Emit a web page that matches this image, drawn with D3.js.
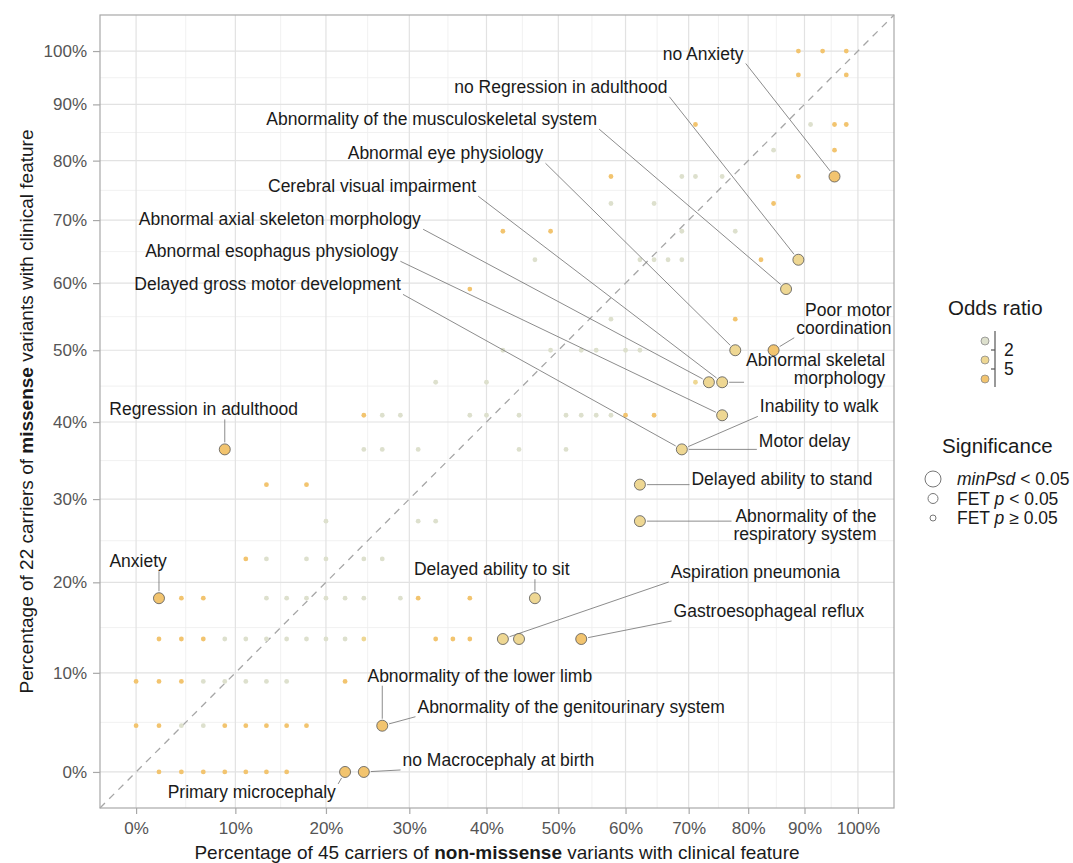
<!DOCTYPE html>
<html lang="en">
<head>
<meta charset="UTF-8">
<title>Missense vs non-missense clinical features</title>
<script src="https://d3js.org/d3.v7.min.js"></script>
<style>
  body { margin: 0; background: #fff; }
  svg { display: block; font-family: "Liberation Sans", Arial, sans-serif; }
</style>
</head>
<body>
<svg id="chart" width="1073" height="863"></svg>
<script>
// carriers in each group
const nonMissenseTotal = 45;
const missenseTotal = 22;

const xTicks = [0, 10, 20, 30, 40, 50, 60, 70, 80, 90, 100];
const yTicks = [0, 10, 20, 30, 40, 50, 60, 70, 80, 90, 100];

// one row per number of missense carriers; each row lists the non-missense carrier counts
// and the odds ratio band of every point (g: < 2, y: 2-5, o: > 5)
const rowMissense = [0, 1, 2, 3, 4, 5, 6, 7, 8, 9, 10, 11, 12, 13, 14, 15, 16, 17, 18, 19, 21, 22];
const rowNonMissense = [
  [1, 2, 3, 4, 5, 6, 7, 10, 11],
  [0, 1, 2, 3, 4, 5, 6, 7, 8, 12],
  [0, 1, 2, 3, 4, 5, 6, 7, 10],
  [1, 2, 3, 4, 5, 6, 7, 8, 9, 10, 11, 15, 16, 17, 19, 20, 24],
  [1, 2, 3, 6, 7, 8, 9, 10, 11, 13, 14, 17, 21],
  [5, 6, 8, 9, 11, 12],
  [9, 14, 15, 28],
  [6, 8, 28],
  [4, 11, 12, 14, 20, 23, 31],
  [11, 12, 13, 17, 18, 20, 23, 24, 25, 26, 27, 29, 34],
  [15, 18, 32, 33, 34],
  [19, 22, 24, 25, 27, 28, 35, 38],
  [26, 35],
  [17, 39],
  [21, 28, 29, 30, 31, 37, 40],
  [19, 22, 31, 35],
  [26, 29, 38],
  [26, 31, 32, 34, 40, 43],
  [38, 43],
  [32, 41, 43, 44],
  [40, 44],
  [40, 42, 44]
];
const rowBand = [
  "ooooooooo",
  "ooggoooooo",
  "ooogggggo",
  "ooogggggggyoooyyo",
  "ooogggggggooy",
  "oggggg",
  "gggy",
  "ooy",
  "ogggggy",
  "ogggggggggooy",
  "ggyyy",
  "ggggggyo",
  "go",
  "oy",
  "gggggoy",
  "oogg",
  "ggo",
  "ogggoo",
  "go",
  "ogoo",
  "oo",
  "ooo"
];
// [non-missense, missense] carriers of features with FET p < 0.05
const significantPoints = [
  [10, 0], [11, 0], [12, 1], [19, 3], [20, 3], [24, 3], [1, 4], [21, 4], [28, 6], [28, 7],
  [4, 8], [31, 8], [34, 9], [33, 10], [34, 10], [35, 11], [38, 11], [39, 13], [40, 14], [43, 17]
];

const labelText = [
  "no Anxiety", "no Regression in adulthood", "Abnormality of the musculoskeletal system",
  "Abnormal eye physiology", "Cerebral visual impairment", "Abnormal axial skeleton morphology",
  "Abnormal esophagus physiology", "Delayed gross motor development", "Poor motor\ncoordination",
  "Abnormal skeletal\nmorphology", "Inability to walk", "Motor delay", "Regression in adulthood",
  "Delayed ability to stand", "Abnormality of the\nrespiratory system", "Anxiety",
  "Delayed ability to sit", "Aspiration pneumonia", "Gastroesophageal reflux",
  "Abnormality of the lower limb", "Abnormality of the genitourinary system",
  "no Macrocephaly at birth", "Primary microcephaly"
];
const labelTarget = [
  [43, 17], [40, 14], [39, 13], [35, 11], [34, 10], [33, 10], [34, 9], [31, 8], [38, 11],
  [34, 10], [31, 8], [31, 8], [4, 8], [28, 7], [28, 6], [1, 4], [21, 4], [19, 3], [24, 3],
  [12, 1], [12, 1], [11, 0], [10, 0]
];
// text placement relative to the labelled point: [dx, dy, anchor]
const labelLayout = [
  [-91, -117, "end"], [-131, -167, "end"], [-189, -164, "end"], [-192, -191, "end"],
  [-246, -190, "end"], [-288, -157, "end"], [-324, -158, "end"], [-281, -159, "end"],
  [118, -34, "end"], [163, -16, "end"], [78, -37, "start"], [77, -2, "start"],
  [-115.5, -34, "start"], [51.6, 0.4, "start"], [236.6, 1, "end"], [-49.6, -31, "start"],
  [-121, -23, "start"], [167.8, -61, "start"], [92.4, -22, "start"], [-14.8, -44, "start"],
  [35.2, -13, "start"], [38.7, -6, "start"], [-9.2, 26, "end"]
];

const bandColor = { g: "#dde0cd", y: "#eed793", o: "#f2c46f" };

const svg = d3.select("#chart");
const panel = { left: 100, right: 894, top: 15, bottom: 808 };

// log1p-style axes, expanded by 5% of the transformed range
const tMax = Math.log1p(1);
const pad = 0.05 * tMax;
const domain = [-100 * Math.expm1(pad), 100 * Math.expm1(tMax + pad)];
const x = d3.scaleSymlog().constant(100).domain(domain).range([panel.left, panel.right]);
const y = d3.scaleSymlog().constant(100).domain(domain).range([panel.bottom, panel.top]);

const pctX = k => 100 * k / nonMissenseTotal;
const pctY = j => 100 * j / missenseTotal;

// grid
const minorOf = (scale, ticks) => d3.pairs(ticks).map(([a, b]) => scale.invert((scale(a) + scale(b)) / 2));
const grid = svg.append("g");
grid.selectAll("line.xminor").data(minorOf(x, xTicks)).join("line")
  .attr("x1", d => x(d)).attr("x2", d => x(d)).attr("y1", panel.top).attr("y2", panel.bottom)
  .attr("stroke", "#eeeeee").attr("stroke-width", 0.8);
grid.selectAll("line.yminor").data(minorOf(y, yTicks)).join("line")
  .attr("y1", d => y(d)).attr("y2", d => y(d)).attr("x1", panel.left).attr("x2", panel.right)
  .attr("stroke", "#eeeeee").attr("stroke-width", 0.8);
grid.selectAll("line.xmajor").data(xTicks).join("line")
  .attr("x1", d => x(d)).attr("x2", d => x(d)).attr("y1", panel.top).attr("y2", panel.bottom)
  .attr("stroke", "#e2e2e2").attr("stroke-width", 1.2);
grid.selectAll("line.ymajor").data(yTicks).join("line")
  .attr("y1", d => y(d)).attr("y2", d => y(d)).attr("x1", panel.left).attr("x2", panel.right)
  .attr("stroke", "#e2e2e2").attr("stroke-width", 1.2);

// identity line
svg.append("line")
  .attr("x1", x(domain[0])).attr("y1", y(domain[0]))
  .attr("x2", x(domain[1])).attr("y2", y(domain[1]))
  .attr("stroke", "#a6a6a6").attr("stroke-width", 1.3).attr("stroke-dasharray", "7,6");

// points
const sigKey = new Set(significantPoints.map(p => p.join(",")));
const points = [];
rowMissense.forEach((j, i) => {
  rowNonMissense[i].forEach((k, n) => {
    points.push({ k, j, band: rowBand[i][n], sig: sigKey.has(k + "," + j) });
  });
});
const rSmall = 2.4, rSig = 5.5;
svg.append("g").selectAll("circle").data(points.filter(d => !d.sig)).join("circle")
  .attr("cx", d => x(pctX(d.k))).attr("cy", d => y(pctY(d.j)))
  .attr("r", rSmall).attr("fill", d => bandColor[d.band]);

// label segments and text
const labels = labelText.map((t, i) => ({
  text: t, k: labelTarget[i][0], j: labelTarget[i][1],
  dx: labelLayout[i][0], dy: labelLayout[i][1], anchor: labelLayout[i][2]
}));
const segG = svg.append("g");
const textG = svg.append("g");
labels.forEach(l => {
  const px = x(pctX(l.k)), py = y(pctY(l.j));
  const t = textG.append("text")
    .attr("x", px + l.dx).attr("y", py + l.dy)
    .attr("text-anchor", l.anchor)
    .attr("font-size", 17.5).attr("fill", "#1a1a1a");
  l.text.split("\n").forEach((line, i) => {
    t.append("tspan").attr("x", px + l.dx).attr("dy", i ? 17.5 : 0).text(line);
  });
  const b = t.node().getBBox();
  const sx = Math.max(b.x - 2, Math.min(px, b.x + b.width + 2));
  const sy = Math.max(b.y + 2, Math.min(py, b.y + b.height));
  const len = Math.hypot(px - sx, py - sy);
  const cut = (rSig + 1.5) / len;
  segG.append("line")
    .attr("x1", sx).attr("y1", sy)
    .attr("x2", px - (px - sx) * cut).attr("y2", py - (py - sy) * cut)
    .attr("stroke", "#6e6e6e").attr("stroke-width", 0.8);
});

svg.append("g").selectAll("circle").data(points.filter(d => d.sig)).join("circle")
  .attr("cx", d => x(pctX(d.k))).attr("cy", d => y(pctY(d.j)))
  .attr("r", rSig).attr("fill", d => bandColor[d.band])
  .attr("stroke", "#555").attr("stroke-width", 0.8);
textG.raise();

// panel border
svg.append("rect")
  .attr("x", panel.left).attr("y", panel.top)
  .attr("width", panel.right - panel.left).attr("height", panel.bottom - panel.top)
  .attr("fill", "none").attr("stroke", "#a8a8a8").attr("stroke-width", 1.2);

// axes
const styleAxis = g => {
  g.select(".domain").remove();
  g.selectAll(".tick line").attr("stroke", "#a8a8a8").attr("stroke-width", 1.2);
  g.selectAll(".tick text").attr("fill", "#555").attr("font-size", 17)
    .attr("font-family", "Liberation Sans, Arial, sans-serif");
};
svg.append("g").attr("transform", `translate(0,${panel.bottom})`)
  .call(d3.axisBottom(x).tickValues(xTicks).tickFormat(d => d + "%").tickSize(6).tickPadding(8))
  .call(styleAxis);
svg.append("g").attr("transform", `translate(${panel.left},0)`)
  .call(d3.axisLeft(y).tickValues(yTicks).tickFormat(d => d + "%").tickSize(7).tickPadding(6))
  .call(styleAxis);

// axis titles
const xTitle = svg.append("text")
  .attr("x", (panel.left + panel.right) / 2).attr("y", 859)
  .attr("text-anchor", "middle").attr("font-size", 19).attr("fill", "#1a1a1a");
xTitle.append("tspan").text("Percentage of 45 carriers of ");
xTitle.append("tspan").attr("font-weight", "bold").text("non-missense");
xTitle.append("tspan").text(" variants with clinical feature");

const yTitle = svg.append("text")
  .attr("transform", `translate(33,${(panel.top + panel.bottom) / 2}) rotate(-90)`)
  .attr("text-anchor", "middle").attr("font-size", 19).attr("fill", "#1a1a1a");
yTitle.append("tspan").text("Percentage of 22 carriers of ");
yTitle.append("tspan").attr("font-weight", "bold").text("missense");
yTitle.append("tspan").text(" variants with clinical feature");

// legend: odds ratio
const orKeys = ["g", "y", "o"];
const orBreaks = ["2", "5"];
const lg = svg.append("g");
lg.append("text").attr("x", 948).attr("y", 315).attr("font-size", 20.5).attr("fill", "#1a1a1a").text("Odds ratio");
lg.selectAll("circle.or").data(orKeys).join("circle")
  .attr("cx", 985).attr("cy", (d, i) => 341 + i * 19).attr("r", 4)
  .attr("fill", d => bandColor[d]).attr("stroke", "#8a8a8a").attr("stroke-width", 0.8);
lg.append("line").attr("x1", 995).attr("x2", 995).attr("y1", 331).attr("y2", 387)
  .attr("stroke", "#555").attr("stroke-width", 1.2);
orBreaks.forEach((b, i) => {
  const yy = 350 + i * 19;
  lg.append("line").attr("x1", 991).attr("x2", 995).attr("y1", yy).attr("y2", yy)
    .attr("stroke", "#555").attr("stroke-width", 1.2);
  lg.append("text").attr("x", 1004).attr("y", yy + 6).attr("font-size", 17.5).attr("fill", "#1a1a1a").text(b);
});

// legend: significance
const sigLegend = [
  { r: 8, parts: [["minPsd", true], [" < 0.05", false]] },
  { r: 5, parts: [["FET ", false], ["p", true], [" < 0.05", false]] },
  { r: 3, parts: [["FET ", false], ["p", true], [" \u2265 0.05", false]] }
];
lg.append("text").attr("x", 942).attr("y", 453).attr("font-size", 20.5).attr("fill", "#1a1a1a").text("Significance");
sigLegend.forEach((s, i) => {
  const yy = 479 + i * 19.5;
  lg.append("circle").attr("cx", 933).attr("cy", yy).attr("r", s.r)
    .attr("fill", "#fff").attr("stroke", "#777").attr("stroke-width", 1);
  const t = lg.append("text").attr("x", 957).attr("y", yy + 6).attr("font-size", 17.5).attr("fill", "#1a1a1a");
  s.parts.forEach(([txt, it]) => t.append("tspan").attr("font-style", it ? "italic" : null).text(txt));
});
</script>
</body>
</html>
